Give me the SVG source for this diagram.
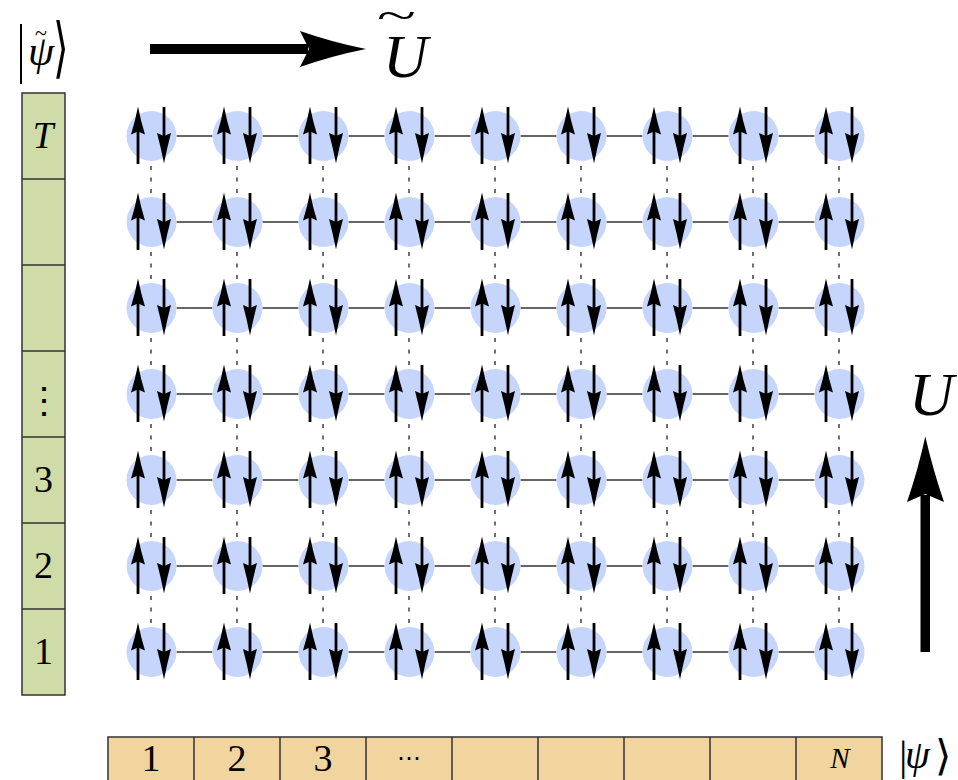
<svg xmlns="http://www.w3.org/2000/svg" xmlns:xlink="http://www.w3.org/1999/xlink" width="958" height="780" viewBox="0 0 958 780">
<style>
.cn{stroke:#333;stroke-width:1.5;fill:none}
.dt{stroke:#222;stroke-width:1.3;stroke-dasharray:4 7.5;fill:none}
.tx{font-family:"Liberation Serif","DejaVu Serif",serif;fill:#000}
.it{font-style:italic}
.cellg{fill:#cfdca7;stroke:#333;stroke-width:1.5}
.cello{fill:#f2d49e;stroke:#333;stroke-width:1.5}
.sep{stroke:#333;stroke-width:1.5}
</style>
<defs>
<g id="spin">
<circle cx="0" cy="0" r="25" fill="#c5d5fc"/>
<line x1="-13.5" y1="28" x2="-13.5" y2="-8" stroke="#000" stroke-width="2.8"/>
<path d="M-13.5,-29.5 Q-10.5,-14 -6.5,-1.5 L-13.5,-4.5 L-20.5,-1.5 Q-16.5,-14 -13.5,-29.5 Z" fill="#000"/>
<line x1="12.5" y1="-29" x2="12.5" y2="8" stroke="#000" stroke-width="2.8"/>
<path d="M12.5,27.5 Q15.5,12 19.5,-3 L12.5,0 L5.5,-3 Q9.5,12 12.5,27.5 Z" fill="#000"/>
</g>
</defs>
<rect width="958" height="780" fill="#fff"/>

<g id="connectors">
<line class="cn" x1="176.5" y1="136" x2="212.5" y2="136"/><line class="cn" x1="262.5" y1="136" x2="298.5" y2="136"/><line class="cn" x1="348.5" y1="136" x2="384.5" y2="136"/><line class="cn" x1="434.5" y1="136" x2="470.5" y2="136"/><line class="cn" x1="520.5" y1="136" x2="556.5" y2="136"/><line class="cn" x1="606.5" y1="136" x2="642.5" y2="136"/><line class="cn" x1="692.5" y1="136" x2="728.5" y2="136"/><line class="cn" x1="778.5" y1="136" x2="814.5" y2="136"/>
<line class="cn" x1="176.5" y1="222" x2="212.5" y2="222"/><line class="cn" x1="262.5" y1="222" x2="298.5" y2="222"/><line class="cn" x1="348.5" y1="222" x2="384.5" y2="222"/><line class="cn" x1="434.5" y1="222" x2="470.5" y2="222"/><line class="cn" x1="520.5" y1="222" x2="556.5" y2="222"/><line class="cn" x1="606.5" y1="222" x2="642.5" y2="222"/><line class="cn" x1="692.5" y1="222" x2="728.5" y2="222"/><line class="cn" x1="778.5" y1="222" x2="814.5" y2="222"/>
<line class="cn" x1="176.5" y1="308" x2="212.5" y2="308"/><line class="cn" x1="262.5" y1="308" x2="298.5" y2="308"/><line class="cn" x1="348.5" y1="308" x2="384.5" y2="308"/><line class="cn" x1="434.5" y1="308" x2="470.5" y2="308"/><line class="cn" x1="520.5" y1="308" x2="556.5" y2="308"/><line class="cn" x1="606.5" y1="308" x2="642.5" y2="308"/><line class="cn" x1="692.5" y1="308" x2="728.5" y2="308"/><line class="cn" x1="778.5" y1="308" x2="814.5" y2="308"/>
<line class="cn" x1="176.5" y1="394" x2="212.5" y2="394"/><line class="cn" x1="262.5" y1="394" x2="298.5" y2="394"/><line class="cn" x1="348.5" y1="394" x2="384.5" y2="394"/><line class="cn" x1="434.5" y1="394" x2="470.5" y2="394"/><line class="cn" x1="520.5" y1="394" x2="556.5" y2="394"/><line class="cn" x1="606.5" y1="394" x2="642.5" y2="394"/><line class="cn" x1="692.5" y1="394" x2="728.5" y2="394"/><line class="cn" x1="778.5" y1="394" x2="814.5" y2="394"/>
<line class="cn" x1="176.5" y1="480" x2="212.5" y2="480"/><line class="cn" x1="262.5" y1="480" x2="298.5" y2="480"/><line class="cn" x1="348.5" y1="480" x2="384.5" y2="480"/><line class="cn" x1="434.5" y1="480" x2="470.5" y2="480"/><line class="cn" x1="520.5" y1="480" x2="556.5" y2="480"/><line class="cn" x1="606.5" y1="480" x2="642.5" y2="480"/><line class="cn" x1="692.5" y1="480" x2="728.5" y2="480"/><line class="cn" x1="778.5" y1="480" x2="814.5" y2="480"/>
<line class="cn" x1="176.5" y1="566" x2="212.5" y2="566"/><line class="cn" x1="262.5" y1="566" x2="298.5" y2="566"/><line class="cn" x1="348.5" y1="566" x2="384.5" y2="566"/><line class="cn" x1="434.5" y1="566" x2="470.5" y2="566"/><line class="cn" x1="520.5" y1="566" x2="556.5" y2="566"/><line class="cn" x1="606.5" y1="566" x2="642.5" y2="566"/><line class="cn" x1="692.5" y1="566" x2="728.5" y2="566"/><line class="cn" x1="778.5" y1="566" x2="814.5" y2="566"/>
<line class="cn" x1="176.5" y1="652" x2="212.5" y2="652"/><line class="cn" x1="262.5" y1="652" x2="298.5" y2="652"/><line class="cn" x1="348.5" y1="652" x2="384.5" y2="652"/><line class="cn" x1="434.5" y1="652" x2="470.5" y2="652"/><line class="cn" x1="520.5" y1="652" x2="556.5" y2="652"/><line class="cn" x1="606.5" y1="652" x2="642.5" y2="652"/><line class="cn" x1="692.5" y1="652" x2="728.5" y2="652"/><line class="cn" x1="778.5" y1="652" x2="814.5" y2="652"/>
<path class="dt" d="M151,166V194M151,252V280M151,338V366M151,424V452M151,510V538M151,596V624"/>
<path class="dt" d="M237,166V194M237,252V280M237,338V366M237,424V452M237,510V538M237,596V624"/>
<path class="dt" d="M323,166V194M323,252V280M323,338V366M323,424V452M323,510V538M323,596V624"/>
<path class="dt" d="M409,166V194M409,252V280M409,338V366M409,424V452M409,510V538M409,596V624"/>
<path class="dt" d="M495,166V194M495,252V280M495,338V366M495,424V452M495,510V538M495,596V624"/>
<path class="dt" d="M581,166V194M581,252V280M581,338V366M581,424V452M581,510V538M581,596V624"/>
<path class="dt" d="M667,166V194M667,252V280M667,338V366M667,424V452M667,510V538M667,596V624"/>
<path class="dt" d="M753,166V194M753,252V280M753,338V366M753,424V452M753,510V538M753,596V624"/>
<path class="dt" d="M839,166V194M839,252V280M839,338V366M839,424V452M839,510V538M839,596V624"/>
</g>

<g id="nodes">
<g id="n1-1"><use xlink:href="#spin" transform="translate(151.5,136)"/></g><g id="n1-2"><use xlink:href="#spin" transform="translate(237.5,136)"/></g><g id="n1-3"><use xlink:href="#spin" transform="translate(323.5,136)"/></g><g id="n1-4"><use xlink:href="#spin" transform="translate(409.5,136)"/></g><g id="n1-5"><use xlink:href="#spin" transform="translate(495.5,136)"/></g><g id="n1-6"><use xlink:href="#spin" transform="translate(581.5,136)"/></g><g id="n1-7"><use xlink:href="#spin" transform="translate(667.5,136)"/></g><g id="n1-8"><use xlink:href="#spin" transform="translate(753.5,136)"/></g><g id="n1-9"><use xlink:href="#spin" transform="translate(839.5,136)"/></g>
<g id="n2-1"><use xlink:href="#spin" transform="translate(151.5,222)"/></g><g id="n2-2"><use xlink:href="#spin" transform="translate(237.5,222)"/></g><g id="n2-3"><use xlink:href="#spin" transform="translate(323.5,222)"/></g><g id="n2-4"><use xlink:href="#spin" transform="translate(409.5,222)"/></g><g id="n2-5"><use xlink:href="#spin" transform="translate(495.5,222)"/></g><g id="n2-6"><use xlink:href="#spin" transform="translate(581.5,222)"/></g><g id="n2-7"><use xlink:href="#spin" transform="translate(667.5,222)"/></g><g id="n2-8"><use xlink:href="#spin" transform="translate(753.5,222)"/></g><g id="n2-9"><use xlink:href="#spin" transform="translate(839.5,222)"/></g>
<g id="n3-1"><use xlink:href="#spin" transform="translate(151.5,308)"/></g><g id="n3-2"><use xlink:href="#spin" transform="translate(237.5,308)"/></g><g id="n3-3"><use xlink:href="#spin" transform="translate(323.5,308)"/></g><g id="n3-4"><use xlink:href="#spin" transform="translate(409.5,308)"/></g><g id="n3-5"><use xlink:href="#spin" transform="translate(495.5,308)"/></g><g id="n3-6"><use xlink:href="#spin" transform="translate(581.5,308)"/></g><g id="n3-7"><use xlink:href="#spin" transform="translate(667.5,308)"/></g><g id="n3-8"><use xlink:href="#spin" transform="translate(753.5,308)"/></g><g id="n3-9"><use xlink:href="#spin" transform="translate(839.5,308)"/></g>
<g id="n4-1"><use xlink:href="#spin" transform="translate(151.5,394)"/></g><g id="n4-2"><use xlink:href="#spin" transform="translate(237.5,394)"/></g><g id="n4-3"><use xlink:href="#spin" transform="translate(323.5,394)"/></g><g id="n4-4"><use xlink:href="#spin" transform="translate(409.5,394)"/></g><g id="n4-5"><use xlink:href="#spin" transform="translate(495.5,394)"/></g><g id="n4-6"><use xlink:href="#spin" transform="translate(581.5,394)"/></g><g id="n4-7"><use xlink:href="#spin" transform="translate(667.5,394)"/></g><g id="n4-8"><use xlink:href="#spin" transform="translate(753.5,394)"/></g><g id="n4-9"><use xlink:href="#spin" transform="translate(839.5,394)"/></g>
<g id="n5-1"><use xlink:href="#spin" transform="translate(151.5,480)"/></g><g id="n5-2"><use xlink:href="#spin" transform="translate(237.5,480)"/></g><g id="n5-3"><use xlink:href="#spin" transform="translate(323.5,480)"/></g><g id="n5-4"><use xlink:href="#spin" transform="translate(409.5,480)"/></g><g id="n5-5"><use xlink:href="#spin" transform="translate(495.5,480)"/></g><g id="n5-6"><use xlink:href="#spin" transform="translate(581.5,480)"/></g><g id="n5-7"><use xlink:href="#spin" transform="translate(667.5,480)"/></g><g id="n5-8"><use xlink:href="#spin" transform="translate(753.5,480)"/></g><g id="n5-9"><use xlink:href="#spin" transform="translate(839.5,480)"/></g>
<g id="n6-1"><use xlink:href="#spin" transform="translate(151.5,566)"/></g><g id="n6-2"><use xlink:href="#spin" transform="translate(237.5,566)"/></g><g id="n6-3"><use xlink:href="#spin" transform="translate(323.5,566)"/></g><g id="n6-4"><use xlink:href="#spin" transform="translate(409.5,566)"/></g><g id="n6-5"><use xlink:href="#spin" transform="translate(495.5,566)"/></g><g id="n6-6"><use xlink:href="#spin" transform="translate(581.5,566)"/></g><g id="n6-7"><use xlink:href="#spin" transform="translate(667.5,566)"/></g><g id="n6-8"><use xlink:href="#spin" transform="translate(753.5,566)"/></g><g id="n6-9"><use xlink:href="#spin" transform="translate(839.5,566)"/></g>
<g id="n7-1"><use xlink:href="#spin" transform="translate(151.5,652)"/></g><g id="n7-2"><use xlink:href="#spin" transform="translate(237.5,652)"/></g><g id="n7-3"><use xlink:href="#spin" transform="translate(323.5,652)"/></g><g id="n7-4"><use xlink:href="#spin" transform="translate(409.5,652)"/></g><g id="n7-5"><use xlink:href="#spin" transform="translate(495.5,652)"/></g><g id="n7-6"><use xlink:href="#spin" transform="translate(581.5,652)"/></g><g id="n7-7"><use xlink:href="#spin" transform="translate(667.5,652)"/></g><g id="n7-8"><use xlink:href="#spin" transform="translate(753.5,652)"/></g><g id="n7-9"><use xlink:href="#spin" transform="translate(839.5,652)"/></g>
</g>

<g id="time-register">
<rect class="cellg" x="22" y="93" width="43" height="602"/>
<line class="sep" x1="22" y1="179" x2="65" y2="179"/>
<line class="sep" x1="22" y1="265" x2="65" y2="265"/>
<line class="sep" x1="22" y1="351" x2="65" y2="351"/>
<line class="sep" x1="22" y1="437" x2="65" y2="437"/>
<line class="sep" x1="22" y1="523" x2="65" y2="523"/>
<line class="sep" x1="22" y1="609" x2="65" y2="609"/>
<text class="tx it" x="43" y="148" font-size="37" text-anchor="middle">T</text>
<text class="tx" x="43.5" y="413" font-size="36" text-anchor="middle">⋮</text>
<text class="tx" x="43.5" y="492" font-size="38" text-anchor="middle">3</text>
<text class="tx" x="43.5" y="578" font-size="38" text-anchor="middle">2</text>
<text class="tx" x="43.5" y="664" font-size="38" text-anchor="middle">1</text>
</g>

<g id="space-register">
<rect class="cello" x="108" y="737" width="774" height="60"/>
<line class="sep" x1="194" y1="737" x2="194" y2="780"/>
<line class="sep" x1="280" y1="737" x2="280" y2="780"/>
<line class="sep" x1="366" y1="737" x2="366" y2="780"/>
<line class="sep" x1="452" y1="737" x2="452" y2="780"/>
<line class="sep" x1="538" y1="737" x2="538" y2="780"/>
<line class="sep" x1="624" y1="737" x2="624" y2="780"/>
<line class="sep" x1="710" y1="737" x2="710" y2="780"/>
<line class="sep" x1="796" y1="737" x2="796" y2="780"/>
<text class="tx" x="151" y="771" font-size="38" text-anchor="middle">1</text>
<text class="tx" x="237" y="771" font-size="38" text-anchor="middle">2</text>
<text class="tx" x="323" y="771" font-size="38" text-anchor="middle">3</text>
<text class="tx" x="409" y="766" font-size="24" text-anchor="middle">⋯</text>
<text class="tx it" x="840" y="768" font-size="29" text-anchor="middle">N</text>
</g>

<g id="ket-psi-tilde">
<text class="tx" font-size="40" transform="translate(17,70) scale(1,1.65)">|</text>
<text class="tx it" x="28" y="65" font-size="42">ψ</text>
<text class="tx" x="35" y="40" font-size="22">~</text>
<text class="tx" font-size="40" transform="translate(53,70) scale(1,1.65)">⟩</text>
</g>

<g id="ket-psi">
<text class="tx" x="899" y="770" font-size="42">|</text>
<text class="tx it" x="905" y="768" font-size="40">ψ</text>
<text class="tx" x="935" y="770" font-size="42">⟩</text>
</g>

<g id="arrow-Utilde">
<rect x="150" y="44" width="158" height="10" fill="#000"/>
<path d="M366,49 Q333,42.5 300,31 L309,49 L300,67 Q333,55.5 366,49 Z" fill="#000"/>
<text class="tx it" x="383" y="77" font-size="62">U</text>
<text class="tx" font-size="40" transform="translate(377,29) scale(1.8,1)">~</text>
</g>

<g id="arrow-U">
<rect x="920.5" y="495" width="9.5" height="157" fill="#000"/>
<path d="M925.3,436.5 Q933,470 944,502 L925.3,494 L907,502 Q918,470 925.3,436.5 Z" fill="#000"/>
<text class="tx it" x="909" y="415" font-size="62">U</text>
</g>
</svg>
